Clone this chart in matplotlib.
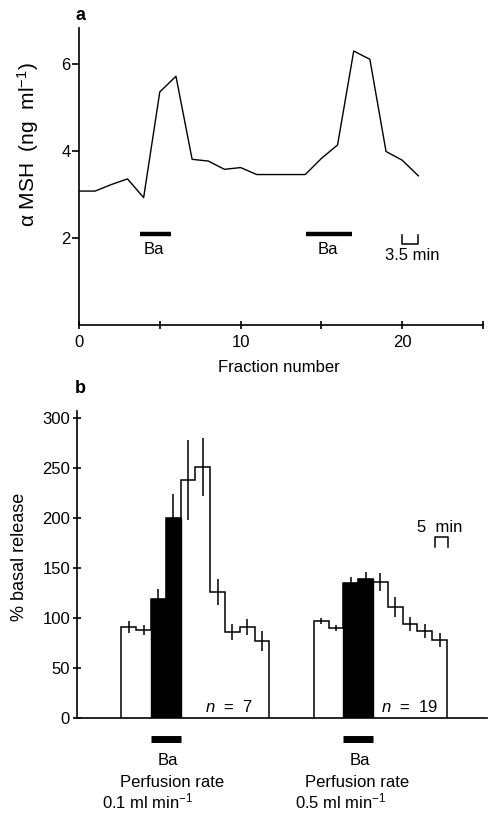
import numpy as np
import matplotlib
matplotlib.use("Agg")
import matplotlib.pyplot as plt

plt.rcParams['font.family'] = ['Liberation Sans', 'DejaVu Sans']
plt.rcParams['mathtext.fontset'] = 'custom'
plt.rcParams['mathtext.rm'] = 'Liberation Sans'
plt.rcParams['mathtext.it'] = 'Liberation Sans:italic'
plt.rcParams['mathtext.bf'] = 'Liberation Sans:bold'

# ---------------- Panel a data ----------------
fraction = [0, 1, 2, 3, 4, 5, 6, 7, 8, 9, 10, 11, 12, 13, 14, 15, 16, 17, 18, 19, 20, 21]
msh = [3.08, 3.08, 3.23, 3.36, 2.93, 5.36, 5.72, 3.81, 3.77, 3.58, 3.62, 3.46,
       3.46, 3.46, 3.46, 3.83, 4.14, 6.30, 6.11, 3.99, 3.79, 3.43]
ba_a_start = [3.8, 14.05]
ba_a_end = [5.7, 16.9]
a_xticks = [0, 5, 10, 15, 20, 25]
a_xticklabels = ['0', '', '10', '', '20', '']
a_yticks = [2, 4, 6]

# ---------------- Panel b data ----------------
g1_edges = [3, 4, 5, 6, 7, 8, 9, 10, 11, 12, 13]
g1_vals = [91, 88, 119, 200, 238, 251, 126, 86, 91, 77]
g1_err = [6, 5, 10, 24, 40, 29, 13, 8, 8, 10]
g1_black = [False, False, True, True, False, False, False, False, False, False]

g2_edges = [16, 17, 18, 19, 20, 21, 22, 23, 24, 25]
g2_vals = [97, 90, 135, 139, 136, 111, 94, 87, 78]
g2_err = [3, 3, 6, 7, 9, 10, 7, 7, 7]
g2_black = [False, False, True, True, False, False, False, False, False]

b_yticks = [0, 50, 100, 150, 200, 250, 300]
n_labels = ['7', '19']

W, H = 488, 813
fig = plt.figure(figsize=(W / 100, H / 100), dpi=100)

def fx(px):
    return px / W

def fy(py):
    return 1 - py / H

# ---------------- Panel a ----------------
axa = fig.add_axes([fx(79), fy(325), (483 - 79) / W, (325 - 28) / H])
axa.plot(fraction, msh, color='black', lw=1.0)
axa.set_xlim(0, 25)
axa.set_ylim(0, 6.83)
for s in ['top', 'right']:
    axa.spines[s].set_visible(False)
for s in ['left', 'bottom']:
    axa.spines[s].set_linewidth(1.2)
axa.set_xticks(a_xticks)
axa.set_xticklabels(a_xticklabels)
axa.set_yticks(a_yticks)
axa.tick_params(axis='x', direction='inout', length=6, width=1.2, labelsize=12, pad=4)
axa.tick_params(axis='y', direction='out', length=5, width=1.2, labelsize=12, pad=1)
for s, e in zip(ba_a_start, ba_a_end):
    axa.plot([s, e], [2.09, 2.09], color='black', lw=3.2, solid_capstyle='butt')
    axa.text((s + e) / 2 - 0.1, 1.73, 'Ba', ha='center', va='center', fontsize=12)
# 3.5 min scale bracket
axa.plot([20.0, 20.0, 20.95, 20.95], [2.07, 1.86, 1.86, 2.07], color='black', lw=1.1)
axa.text(20.6, 1.6, '3.5 min', ha='center', va='center', fontsize=12)

fig.text(fx(279), fy(367), 'Fraction number', ha='center', va='center', fontsize=12)
fig.text(fx(28), fy(145), 'α MSH  (ng  ml$^{-1}$)', rotation=90,
         ha='center', va='center', fontsize=15)
fig.text(fx(80), fy(15), 'a', ha='center', va='center', fontsize=13, fontweight='bold')

# ---------------- Panel b ----------------
bw_px = 14.8
axb = fig.add_axes([fx(77), fy(718), (487 - 77) / W, 307 / H])
axb.set_xlim(0, (487 - 77) / bw_px)
axb.set_ylim(0, 307)
for s in ['top', 'right']:
    axb.spines[s].set_visible(False)
for s in ['left', 'bottom']:
    axb.spines[s].set_linewidth(1.2)
axb.set_xticks([])
axb.set_yticks(b_yticks)
axb.tick_params(axis='y', direction='inout', length=6, width=1.2, labelsize=12, pad=2)

for edges, vals, errs, black in [(g1_edges, g1_vals, g1_err, g1_black),
                                 (g2_edges, g2_vals, g2_err, g2_black)]:
    edges = np.asarray(edges, dtype=float)
    vals = np.asarray(vals, dtype=float)
    errs = np.asarray(errs, dtype=float)
    black = np.asarray(black)
    centers = (edges[:-1] + edges[1:]) / 2
    axb.bar(centers[black], vals[black], width=1.0, color='black', edgecolor='black', lw=1.0)
    axb.stairs(vals, edges, baseline=0, color='black', lw=1.1)
    axb.errorbar(centers, vals, yerr=errs, fmt='none', ecolor='black', elinewidth=1.1, capsize=0)
    bs = edges[:-1][black].min()
    be = edges[1:][black].max()
    axb.plot([bs, be], [-21, -21], color='black', lw=5, solid_capstyle='butt', clip_on=False)

axb.text(10.27, 11, r'$n$  =  ' + n_labels[0], ha='center', va='center', fontsize=12)
axb.text(22.5, 11, r'$n$  =  ' + n_labels[1], ha='center', va='center', fontsize=12)

# 5 min scale bracket
axb.plot([24.2, 24.2, 25.1, 25.1], [171, 181, 181, 171], color='black', lw=1.1)
axb.text(24.5, 191, '5  min', ha='center', va='center', fontsize=12)

fig.text(fx(168), fy(760), 'Ba', ha='center', va='center', fontsize=12)
fig.text(fx(360), fy(760), 'Ba', ha='center', va='center', fontsize=12)
fig.text(fx(120), fy(782), 'Perfusion rate', ha='left', va='center', fontsize=12)
fig.text(fx(305), fy(782), 'Perfusion rate', ha='left', va='center', fontsize=12)
fig.text(fx(102), fy(801), r'0.1 ml min$^{-1}$', ha='left', va='center', fontsize=12)
fig.text(fx(295), fy(801), r'0.5 ml min$^{-1}$', ha='left', va='center', fontsize=12)

fig.text(fx(19.5), fy(557), '% basal release', rotation=90, ha='center', va='center', fontsize=13)
fig.text(fx(80), fy(388), 'b', ha='center', va='center', fontsize=13, fontweight='bold')

fig.savefig('out.png', dpi=100)
